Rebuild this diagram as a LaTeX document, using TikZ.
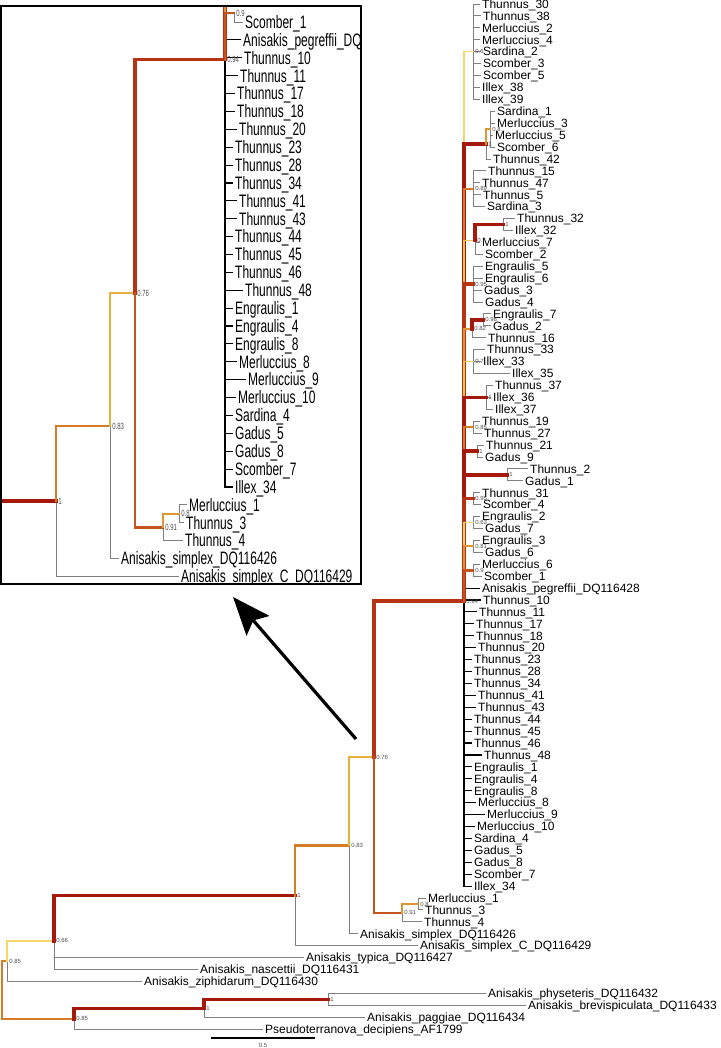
\documentclass[tikz,border=0pt]{standalone}
\usepackage{fontspec}
\setmainfont{Liberation Sans}
\usetikzlibrary{arrows.meta}
\definecolor{pp100}{RGB}{165,25,12}
\definecolor{pp95}{RGB}{182,52,20}
\definecolor{pp90}{RGB}{198,84,30}
\definecolor{pp85}{RGB}{212,124,38}
\definecolor{pp80}{RGB}{222,150,50}
\definecolor{pp76}{RGB}{230,176,62}
\definecolor{pp70}{RGB}{238,196,80}
\definecolor{pp60}{RGB}{244,214,106}
\newif\ifzoomcopy

\begin{document}
\begin{tikzpicture}[x=1pt,y=-1pt,
	leaf/.style={anchor=west, inner xsep=2pt, inner ysep=0pt, text height=8.6pt, text depth=0pt, font=\fontsize{12}{12}\selectfont},
	pplabel/.style={anchor=west, inner xsep=2.2pt, inner ysep=0pt, font=\fontsize{6}{6}\selectfont, text=black!70},
	lf/.style={draw=black!50, line width=0.9},
	lk/.style={draw=black, line width=1.1},
	b100/.style={draw=pp100, line width=3.6, line cap=rect},
	b95/.style={draw=pp95, line width=3.3, line cap=rect},
	b90/.style={draw=pp90, line width=2.8, line cap=rect},
	b85/.style={draw=pp85, line width=2.3, line cap=rect},
	b80/.style={draw=pp80, line width=2.0, line cap=rect},
	b76/.style={draw=pp76, line width=1.8, line cap=rect},
	b70/.style={draw=pp70, line width=1.5, line cap=rect},
	b60/.style={draw=pp60, line width=1.2, line cap=rect}]
	\useasboundingbox (0,0) rectangle (720,1048);

	\newcommand\anisakistree{%
	% internal nodes
	\coordinate (root0) at (2,990.0);
	\coordinate (n085a) at (7,961.2);
	\coordinate (n066) at (54,940.9);
	\coordinate (nroot1) at (295,895.5);
	\coordinate (n083) at (349,845.4);
	\coordinate (n076) at (374,757.0);
	\coordinate (n094) at (464,601.1);
	\coordinate (n091) at (402,912.9);
	\coordinate (n08) at (418,903.96);
	\coordinate (n085b) at (74,1018.7);
	\coordinate (nB1) at (204,1008.3);
	\coordinate (nC1) at (328,999.3);
	\coordinate (cS2) at (473,51.68);
	\coordinate (cA) at (486,144.06);
	\coordinate (cB) at (490,129.16);
	\coordinate (c089) at (473,188.76);
	\coordinate (cD) at (475,240.4);
	\coordinate (cE) at (503,224.52);
	\coordinate (cF) at (473,284.12);
	\coordinate (cH) at (472,328.82);
	\coordinate (cI) at (483,319.88);
	\coordinate (cJ) at (473,361.6);
	\coordinate (cK) at (486,397.36);
	\coordinate (cL) at (473,427.16);
	\coordinate (cM) at (477,451.0);
	\coordinate (cN) at (507,474.84);
	\coordinate (cO) at (473,498.68);
	\coordinate (cP) at (473,522.52);
	\coordinate (cQ) at (473,546.36);
	\coordinate (cR) at (473,570.2);

	% tips
	\foreach \i/\lx/\txt/\up/\st in {
		1/482/Thunnus\_30/cS2/lf, 2/483/Thunnus\_38/cS2/lf, 3/482/Merluccius\_2/cS2/lf,
		4/482/Merluccius\_4/cS2/lf, 5/483/Sardina\_2/cS2/lf, 6/483/Scomber\_3/cS2/lf,
		7/483/Scomber\_5/cS2/lf, 8/482/Illex\_38/cS2/lf, 9/482/Illex\_39/cS2/lf,
		10/497/Sardina\_1/cB/lf, 11/497/Merluccius\_3/cB/lf, 12/495/Merluccius\_5/cB/lf,
		13/497/Scomber\_6/cB/lf, 14/493/Thunnus\_42/cA/lf,
		15/488/Thunnus\_15/c089/lf, 16/482/Thunnus\_47/c089/lf, 17/483/Thunnus\_5/c089/lf,
		18/487/Sardina\_3/c089/lf, 19/517/Thunnus\_32/cE/lf, 20/515/Illex\_32/cE/lf,
		21/482/Merluccius\_7/cD/lf, 22/485/Scomber\_2/cD/lf,
		23/485/Engraulis\_5/cF/lf, 24/485/Engraulis\_6/cF/lf, 25/484/Gadus\_3/cF/lf,
		26/485/Gadus\_4/cF/lf, 27/493/Engraulis\_7/cI/lf, 28/493/Gadus\_2/cI/lf,
		29/488/Thunnus\_16/cH/lf, 30/487/Thunnus\_33/cJ/lf, 31/483/Illex\_33/cJ/lf,
		32/512/Illex\_35/cJ/lf, 33/495/Thunnus\_37/cK/lf, 34/493/Illex\_36/cK/lf,
		35/495/Illex\_37/cK/lf, 36/482/Thunnus\_19/cL/lf, 37/484/Thunnus\_27/cL/lf,
		38/486/Thunnus\_21/cM/lf, 39/485/Gadus\_9/cM/lf, 40/530/Thunnus\_2/cN/lf,
		41/525/Gadus\_1/cN/lf, 42/482/Thunnus\_31/cO/lf, 43/483/Scomber\_4/cO/lf,
		44/482/Engraulis\_2/cP/lf, 45/485/Gadus\_7/cP/lf, 46/482/Engraulis\_3/cQ/lf,
		47/485/Gadus\_6/cQ/lf, 48/482/Merluccius\_6/cR/lf, 49/484/Scomber\_1/cR/lf,
		50/482/Anisakis\_pegreffii\_DQ116428/n094/lk, 51/483/Thunnus\_10/n094/lk,
		52/479/Thunnus\_11/n094/lk, 53/476/Thunnus\_17/n094/lk, 54/476/Thunnus\_18/n094/lk,
		55/478/Thunnus\_20/n094/lk, 56/474/Thunnus\_23/n094/lk, 57/474/Thunnus\_28/n094/lk,
		58/474/Thunnus\_34/n094/lk, 59/478/Thunnus\_41/n094/lk, 60/478/Thunnus\_43/n094/lk,
		61/474/Thunnus\_44/n094/lk, 62/474/Thunnus\_45/n094/lk, 63/474/Thunnus\_46/n094/lk,
		64/484/Thunnus\_48/n094/lk, 65/474/Engraulis\_1/n094/lk, 66/474/Engraulis\_4/n094/lk,
		67/474/Engraulis\_8/n094/lk, 68/478/Merluccius\_8/n094/lk, 69/487/Merluccius\_9/n094/lk,
		70/477/Merluccius\_10/n094/lk, 71/474/Sardina\_4/n094/lk, 72/474/Gadus\_5/n094/lk,
		73/474/Gadus\_8/n094/lk, 74/474/Scomber\_7/n094/lk, 75/474/Illex\_34/n094/lk,
		76/428/Merluccius\_1/n08/lf, 77/425/Thunnus\_3/n08/lf, 78/424/Thunnus\_4/n091/lf,
		79/360/Anisakis\_simplex\_DQ116426/n083/lf,
		80/420/Anisakis\_simplex\_C\_DQ116429/nroot1/lf,
		81/306/Anisakis\_typica\_DQ116427/n066/lf,
		82/200/Anisakis\_nascettii\_DQ116431/n066/lf,
		83/144/Anisakis\_ziphidarum\_DQ116430/n085a/lf,
		84/488/Anisakis\_physeteris\_DQ116432/nC1/lf,
		85/528/Anisakis\_brevispiculata\_DQ116433/nC1/lf,
		86/367/Anisakis\_paggiae\_DQ116434/nB1/lf,
		87/265/Pseudoterranova\_decipiens\_AF1799/n085b/lf}{
		\def\drawit{1}
		\ifzoomcopy
			\ifnum\i<49 \def\drawit{0}\fi
			\ifnum\i>80 \def\drawit{0}\fi
		\fi
		\ifnum\drawit=1
			\node[leaf] (l\i) at (\lx-2,{4+11.92*(\i-1)}) {\txt};
			\draw[\st] (\up) |- (l\i.west);
		\fi
	}

	% supported branches
	\draw[b85] (root0) |- (n085a);
	\draw[b85] (root0) |- (n085b);
	\draw[b60] (n085a) |- (n066);
	\draw[b100] (n066) |- (nroot1);
	\draw[b85] (nroot1) |- (n083);
	\draw[b76] (n083) |- (n076);
	\draw[b95] (n076) |- (n094);
	\draw[b90] (n076) |- (n091);
	\draw[b80] (n091) |- (n08);
	\draw[b100] (n085b) |- (nB1);
	\draw[b100] (nB1) |- (nC1);
	\draw[b60] (n094) |- (cS2);
	\draw[b100] (n094) |- (cA);
	\draw[b80] (cA) |- (cB);
	\draw[b85] (n094) |- (c089);
	\draw[b70] (n094) |- (cD);
	\draw[b100] (cD) |- (cE);
	\draw[b95] (n094) |- (cF);
	\draw[b80] (n094) |- (cH);
	\draw[b100] (cH) |- (cI);
	\draw[b70] (n094) |- (cJ);
	\draw[b100] (n094) |- (cK);
	\draw[b85] (n094) |- (cL);
	\draw[b100] (n094) |- (cM);
	\draw[b100] (n094) |- (cN);
	\draw[b95] (n094) |- (cO);
	\draw[b60] (n094) |- (cP);
	\draw[b80] (n094) |- (cQ);
	\draw[b90] (n094) |- (cR);

	% posterior values (last field: also shown in the zoomed copy)
	\foreach \c/\v/\z in {n085a/0.85/0, n066/0.66/0, nroot1/1/1, n083/0.83/1, n076/0.76/1,
		n094/0.94/1, n091/0.91/1, n08/0.8/1, n085b/0.85/0, nB1/1/0, nC1/1/0, cS2/0.6/0,
		cA/1/0, cB/0.8/0, c089/0.89/0, cD/0.7/0, cE/1/0, cF/0.95/0, cH/0.82/0, cI/0.98/0,
		cJ/0.7/0, cK/1/0, cL/0.85/0, cM/1/0, cN/1/0, cO/0.95/0, cP/0.63/0, cQ/0.81/0,
		cR/0.9/1}{
		\def\drawit{1}
		\ifzoomcopy\ifnum\z=0 \def\drawit{0}\fi\fi
		\ifnum\drawit=1
			\node[pplabel] (t\c) at (\c) {\v};
		\fi
	}
	}

	\zoomcopyfalse
	\anisakistree

	% zoomed copy
	\begin{scope}
		\clip (1,6) rectangle (361,584);
		\begin{scope}[shift={(-239,-842.3)}, yscale=1.5, transform shape]
			\zoomcopytrue
			\anisakistree
		\end{scope}
	\end{scope}
	\draw[line width=1.4] (1,6) rectangle (361,584);

	\coordinate (arrowfrom) at (356,739);
	\coordinate (arrowto) at (233,597);
	\draw[line width=3.2, -{Stealth[length=38pt, width=30pt, inset=7pt]}] (arrowfrom) -- (arrowto);

	% scale bar
	\coordinate (sbleft) at (211,1038);
	\coordinate (sbright) at (315,1038);
	\draw[line width=1.6] (sbleft) -- (sbright);
	\node[font=\fontsize{6}{6}\selectfont, text=black!70, inner sep=0pt] (sbtext) at (263,1045) {0.5};
\end{tikzpicture}
\end{document}
